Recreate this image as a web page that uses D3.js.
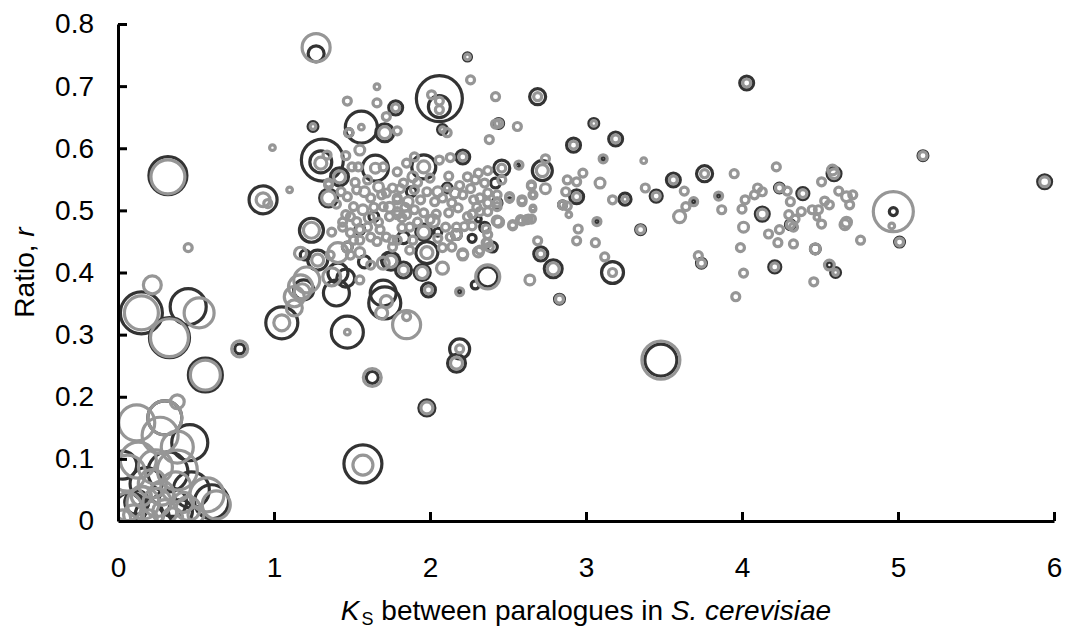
<!DOCTYPE html>
<html>
<head>
<meta charset="utf-8">
<script src="https://cdn.jsdelivr.net/npm/d3@7"></script>
<style>
  html, body { margin: 0; padding: 0; background: #fff; }
  svg { display: block; font-family: "Liberation Sans", Arial, sans-serif; }
</style>
</head>
<body>
<svg id="chart" width="1069" height="635"></svg>
<script>
// Axis ticks
const xTicks = [0, 1, 2, 3, 4, 5, 6];
const yTicks = [0, 0.1, 0.2, 0.3, 0.4, 0.5, 0.6, 0.7, 0.8];

// Bubble series: [K_S, ratio r, bubble size]
const darkSeries = [
  [1.27,0.752,16],[2.24,0.747,4],[2.06,0.680,132],[2.06,0.667,30],[2.08,0.630,6],
  [1.78,0.665,12],[1.56,0.634,64],[1.48,0.625,4],[1.71,0.625,20],[1.25,0.635,6],
  [0.93,0.517,49],[1.24,0.468,36],[1.31,0.581,110],[1.30,0.578,30],[1.42,0.554,20],
  [1.65,0.568,42],[1.35,0.520,20],[1.96,0.570,36],[2.21,0.586,12],[2.11,0.536,6],
  [2.69,0.683,16],[2.44,0.640,6],[3.05,0.640,6],[2.92,0.605,12],[3.19,0.615,12],
  [2.46,0.568,16],[2.72,0.564,25],[3.56,0.549,12],[3.76,0.559,16],[4.03,0.705,12],
  [2.94,0.522,12],[2.85,0.509,4],[3.25,0.518,9],[3.45,0.523,9],[3.74,0.415,6],
  [3.35,0.469,6],[3.17,0.400,30],[2.71,0.430,12],[2.79,0.406,20],[2.83,0.357,6],
  [2.37,0.393,25],[2.19,0.369,1],[4.59,0.559,12],[5.16,0.588,6],[5.94,0.546,12],
  [4.24,0.536,6],[4.39,0.527,9],[4.13,0.494,12],[4.31,0.477,6],[4.21,0.409,9],
  [4.56,0.412,2],[4.60,0.400,6],[4.97,0.498,4],[5.01,0.449,6],[4.47,0.438,6],
  [3.69,0.514,1],[3.85,0.523,1],[3.11,0.583,1],[3.07,0.482,1],[2.51,0.517,1],
  [1.28,0.420,25],[1.20,0.428,6],[1.58,0.417,9],[1.74,0.420,16],[1.75,0.418,20],
  [1.41,0.399,25],[1.46,0.391,20],[1.19,0.372,25],[1.70,0.367,42],[1.55,0.469,6],
  [1.47,0.441,6],[2.42,0.544,6],[2.43,0.512,6],[2.31,0.486,2],[2.35,0.473,6],
  [2.40,0.441,6],[2.17,0.461,6],[2.05,0.465,4],[1.96,0.465,16],[1.83,0.456,9],
  [1.98,0.432,30],[1.83,0.404,16],[1.95,0.400,16],[1.99,0.372,12],[2.29,0.380,4],
  [2.56,0.572,1],[1.64,0.490,6],[1.88,0.530,6],[2.27,0.455,4],
  [1.57,0.092,90],[1.63,0.231,9],[1.98,0.182,16],[2.19,0.277,25],
  [2.17,0.254,20],[1.05,0.319,64],[1.47,0.304,64],[1.71,0.351,64],[1.40,0.367,42],
  [3.48,0.259,64],[0.32,0.556,90],[0.15,0.335,110],[0.45,0.345,81],[0.33,0.295,100],
  [0.56,0.235,72],[0.78,0.277,6],[0.30,0.166,72],[0.46,0.126,81],[0.32,0.079,100],
  [0.47,0.050,81],[0.60,0.031,72],[0.08,0.020,64],[0.20,0.010,49],[0.40,0.015,36],
  [0.03,0.090,49],[0.18,0.060,64],[0.12,0.030,36],[0.35,0.030,49]
];

const graySeries = [
  [1.27,0.762,49],[2.24,0.747,2],[2.26,0.710,4],[2.01,0.686,4],[2.06,0.676,4],
  [2.06,0.662,4],[2.08,0.630,2],[2.11,0.625,4],[1.66,0.699,2],[1.47,0.676,4],
  [1.66,0.673,4],[1.78,0.665,4],[1.72,0.651,4],[1.79,0.628,4],[1.56,0.634,2],
  [1.48,0.625,4],[1.71,0.625,9],[1.25,0.635,2],[2.42,0.683,4],[2.42,0.639,4],
  [2.38,0.614,4],[0.99,0.601,2],[1.10,0.533,2],[0.93,0.517,12],[0.96,0.511,4],
  [1.24,0.468,16],[1.30,0.576,9],[1.34,0.589,4],[1.46,0.588,4],[1.42,0.554,9],
  [1.55,0.597,6],[1.50,0.570,4],[1.54,0.570,4],[1.65,0.568,6],[1.70,0.570,4],
  [1.35,0.541,4],[1.35,0.520,12],[1.96,0.570,9],[2.06,0.581,4],[2.13,0.585,4],
  [2.21,0.586,4],[2.11,0.536,2],[2.69,0.683,4],[2.44,0.640,4],[2.56,0.635,4],
  [3.05,0.640,2],[2.92,0.605,4],[3.19,0.615,4],[2.46,0.568,4],[2.57,0.573,4],
  [2.74,0.583,4],[2.72,0.564,9],[3.11,0.583,4],[3.37,0.580,2],[3.56,0.549,4],
  [3.76,0.559,4],[3.95,0.559,4],[4.03,0.705,4],[2.37,0.564,4],[2.65,0.539,4],
  [2.74,0.535,6],[2.88,0.549,4],[2.94,0.546,4],[2.98,0.560,4],[3.09,0.544,6],
  [2.94,0.522,4],[2.87,0.530,4],[2.85,0.509,4],[2.88,0.507,4],[2.89,0.493,2],
  [2.51,0.522,4],[2.59,0.514,4],[2.66,0.525,2],[2.66,0.502,2],[2.43,0.506,4],
  [3.17,0.517,4],[3.25,0.518,2],[3.38,0.536,4],[3.45,0.523,4],[3.63,0.531,4],
  [3.69,0.514,4],[3.64,0.506,4],[3.60,0.490,9],[3.85,0.523,4],[3.87,0.501,4],
  [4.02,0.517,4],[4.00,0.502,4],[4.01,0.473,6],[3.99,0.440,4],[4.01,0.399,4],
  [3.96,0.361,4],[3.72,0.427,4],[3.74,0.415,4],[3.35,0.469,4],[3.07,0.482,4],
  [2.95,0.470,4],[2.94,0.451,4],[3.06,0.448,4],[3.12,0.425,4],[3.17,0.400,4],
  [2.65,0.486,4],[2.53,0.477,4],[2.59,0.483,4],[2.63,0.486,4],[2.44,0.481,6],
  [2.36,0.470,4],[2.69,0.451,4],[2.71,0.430,4],[2.79,0.406,9],[2.64,0.388,6],
  [2.83,0.357,4],[2.37,0.393,36],[2.19,0.369,4],[2.21,0.430,6],[2.31,0.433,6],
  [2.36,0.448,4],[2.38,0.441,4],[4.22,0.570,4],[4.59,0.559,6],[4.58,0.565,6],
  [5.16,0.588,4],[5.94,0.546,6],[4.10,0.536,4],[4.08,0.525,4],[4.13,0.530,4],
  [4.24,0.536,4],[4.29,0.531,4],[4.39,0.527,4],[4.51,0.546,4],[4.31,0.514,4],
  [4.13,0.494,6],[4.30,0.493,4],[4.34,0.486,4],[4.38,0.498,4],[4.45,0.501,4],
  [4.49,0.501,4],[4.53,0.515,4],[4.56,0.509,4],[4.62,0.531,4],[4.67,0.522,6],
  [4.71,0.525,4],[4.69,0.509,4],[4.66,0.477,6],[4.67,0.481,6],[4.48,0.489,2],
  [4.51,0.478,4],[4.31,0.477,4],[4.33,0.473,4],[4.24,0.469,4],[4.17,0.462,4],
  [4.23,0.448,4],[4.33,0.446,4],[4.47,0.438,6],[4.21,0.409,4],[4.56,0.412,6],
  [4.60,0.400,2],[4.46,0.385,4],[4.76,0.452,4],[4.97,0.498,100],[4.96,0.475,2],
  [5.01,0.449,4],[3.48,0.259,90],
  [1.35,0.544,4],[1.47,0.522,4],[1.53,0.533,4],[1.60,0.549,4],[1.51,0.506,4],
  [1.49,0.490,4],[1.46,0.493,4],[1.57,0.501,6],[1.62,0.520,4],[1.67,0.538,6],
  [1.72,0.528,4],[1.76,0.536,4],[1.79,0.517,4],[1.70,0.506,4],[1.74,0.490,4],
  [1.79,0.498,4],[1.67,0.481,4],[1.60,0.473,4],[1.44,0.481,4],[1.37,0.465,4],
  [1.44,0.473,4],[1.49,0.464,4],[1.55,0.469,4],[1.51,0.452,4],[1.47,0.441,6],
  [1.55,0.452,4],[1.62,0.457,4],[1.68,0.469,4],[1.72,0.457,4],[1.76,0.452,4],
  [1.17,0.431,9],[1.28,0.420,9],[1.36,0.428,4],[1.41,0.432,25],[1.49,0.428,4],
  [1.55,0.432,6],[1.62,0.412,4],[1.70,0.415,9],[1.37,0.393,20],[1.55,0.388,4],
  [1.17,0.377,36],
  [1.40,0.510,4],[1.43,0.530,4],[1.52,0.545,4],[1.58,0.530,6],[1.64,0.505,4],
  [1.69,0.525,4],[1.74,0.505,6],[1.81,0.535,4],[1.84,0.505,4],[1.61,0.488,6],
  [1.53,0.482,4],[1.66,0.450,4],[1.82,0.488,4],[1.92,0.545,4],[2.00,0.552,4],
  [2.12,0.555,4],[2.19,0.540,4],[2.26,0.535,4],[2.31,0.560,4],[2.05,0.530,6],
  [2.14,0.512,4],[2.30,0.505,4],[2.22,0.474,4],[2.05,0.455,4],
  [1.79,0.562,4],[1.85,0.576,4],[1.90,0.586,4],[1.89,0.554,6],[1.83,0.544,4],
  [1.98,0.530,4],[1.90,0.533,4],[1.79,0.520,4],[1.86,0.514,6],[1.94,0.517,4],
  [2.03,0.514,4],[2.08,0.520,4],[2.16,0.528,6],[2.21,0.525,4],[2.24,0.554,4],
  [2.29,0.549,4],[2.35,0.544,4],[2.46,0.549,4],[2.37,0.528,4],[2.43,0.525,4],
  [2.32,0.520,4],[2.28,0.517,4],[2.37,0.512,4],[2.43,0.512,4],[2.51,0.520,4],
  [2.59,0.517,4],[2.66,0.525,4],[2.65,0.541,4],[2.66,0.504,2],[2.62,0.485,4],
  [2.58,0.485,4],[2.53,0.475,4],[2.43,0.483,6],[2.37,0.498,4],[2.32,0.498,4],
  [2.27,0.494,4],[2.27,0.475,4],[2.37,0.461,4],[2.37,0.448,4],[2.32,0.436,4],
  [2.21,0.428,6],[2.14,0.441,4],[2.08,0.440,4],[2.17,0.461,6],[2.13,0.457,4],
  [2.10,0.473,4],[2.17,0.473,4],[2.24,0.490,4],[2.18,0.504,4],[2.12,0.496,4],
  [2.04,0.494,4],[2.00,0.485,4],[1.96,0.496,4],[1.90,0.501,4],[1.85,0.493,4],
  [1.79,0.493,4],[1.92,0.481,4],[2.02,0.483,9],[1.96,0.465,9],[1.87,0.473,4],
  [1.82,0.472,4],[1.79,0.452,4],[1.89,0.452,4],[1.87,0.436,4],[1.98,0.432,9],
  [1.76,0.441,4],[1.75,0.418,9],[1.83,0.404,6],[1.95,0.400,9],[2.08,0.407,9],
  [1.99,0.372,4],
  [1.57,0.090,25],[1.63,0.231,20],[1.98,0.182,9],[2.19,0.277,4],[2.17,0.254,9],
  [1.05,0.319,16],[1.13,0.361,25],[1.18,0.369,16],[1.13,0.343,16],[1.21,0.388,42],
  [1.47,0.304,2],[1.85,0.316,49],[1.85,0.329,4],[1.72,0.353,9],[1.69,0.335,9],
  [0.78,0.277,16],[0.45,0.440,4],[0.22,0.380,20],[0.32,0.554,72],[0.15,0.335,72],
  [0.52,0.335,56],[0.33,0.295,90],[0.56,0.235,56],
  [0.38,0.192,12],[0.30,0.166,72],[0.12,0.158,81],[0.27,0.138,81],[0.38,0.119,64],
  [0.13,0.098,81],[0.06,0.077,81],[0.24,0.087,72],[0.38,0.082,100],[0.37,0.055,56],
  [0.57,0.042,72],[0.63,0.026,49],[0.06,0.023,49],[0.16,0.029,64],[0.25,0.030,49],
  [0.30,0.015,36],[0.45,0.020,36],[0.10,0.010,25],[0.20,0.005,16],[0.35,0.005,25],
  [0.50,0.010,16],[0.03,0.005,16],[0.15,0.040,25],[0.28,0.045,36],[0.42,0.030,25],
  [0.22,0.060,49]
];

const svg = d3.select("#chart");
const plot = { left: 118, right: 1054, top: 24, bottom: 521 };

const x = d3.scaleLinear().domain([0, 6]).range([plot.left, plot.right]);
const y = d3.scaleLinear().domain([0, 0.8]).range([plot.bottom, plot.top]);
const r = d3.scaleSqrt().domain([0, 132]).range([0, 23]);

svg.append("defs").append("clipPath").attr("id", "plot-clip")
  .append("rect")
  .attr("x", plot.left).attr("y", plot.top)
  .attr("width", plot.right - plot.left)
  .attr("height", plot.bottom - plot.top);

const marks = svg.append("g").attr("clip-path", "url(#plot-clip)");

// Larger bubbles go underneath smaller ones within each series
function drawSeries(data, color, cls) {
  const sorted = data.slice().sort((a, b) => b[2] - a[2]);
  marks.append("g").attr("class", cls)
    .selectAll("circle")
    .data(sorted)
    .join("circle")
    .attr("cx", d => x(d[0]))
    .attr("cy", d => y(d[1]))
    .attr("r", d => r(d[2]))
    .attr("fill", "none")
    .attr("stroke", color)
    .attr("stroke-width", 3.2);
}

drawSeries(darkSeries, "#333333", "dark");
drawSeries(graySeries, "#969696", "gray");

// Axes
const xAxis = d3.axisBottom(x)
  .tickValues(xTicks)
  .tickFormat(d3.format("d"))
  .tickSizeInner(-9)
  .tickSizeOuter(0)
  .tickPadding(36);

const yAxis = d3.axisLeft(y)
  .tickValues(yTicks)
  .tickFormat(d => d === 0 ? "0" : d3.format(".1f")(d))
  .tickSizeInner(-9)
  .tickSizeOuter(0)
  .tickPadding(24);

function styleAxis(g) {
  g.select(".domain").attr("stroke", "#000").attr("stroke-width", 3);
  g.selectAll(".tick line").attr("stroke", "#000").attr("stroke-width", 3);
  g.selectAll(".tick text")
    .attr("fill", "#000")
    .style("font-size", "28px")
    .style("font-family", "'Liberation Sans', Arial, sans-serif");
}

svg.append("g")
  .attr("transform", `translate(0,${plot.bottom})`)
  .call(xAxis)
  .call(styleAxis)
  .call(g => g.selectAll(".tick").filter(d => d === 0).select("line").remove());

svg.append("g")
  .attr("transform", `translate(${plot.left},0)`)
  .call(yAxis)
  .call(styleAxis)
  .call(g => g.selectAll(".tick").filter(d => d === 0).select("line").remove());

// Axis titles
const xTitle = svg.append("text")
  .attr("x", (plot.left + plot.right) / 2)
  .attr("y", 620)
  .attr("text-anchor", "middle")
  .style("font-size", "28px")
  .attr("fill", "#000");
xTitle.append("tspan").attr("font-style", "italic").text("K");
xTitle.append("tspan").attr("font-size", "18px").attr("dy", 5).attr("dx", 2).text("S");
xTitle.append("tspan").attr("dy", -5).text(" between paralogues in ");
xTitle.append("tspan").attr("font-style", "italic").text("S. cerevisiae");

const yTitle = svg.append("text")
  .attr("transform", `translate(34,${(plot.top + plot.bottom) / 2}) rotate(-90)`)
  .attr("text-anchor", "middle")
  .style("font-size", "28px")
  .attr("fill", "#000");
yTitle.append("tspan").text("Ratio, ");
yTitle.append("tspan").attr("font-style", "italic").text("r");
</script>
</body>
</html>
